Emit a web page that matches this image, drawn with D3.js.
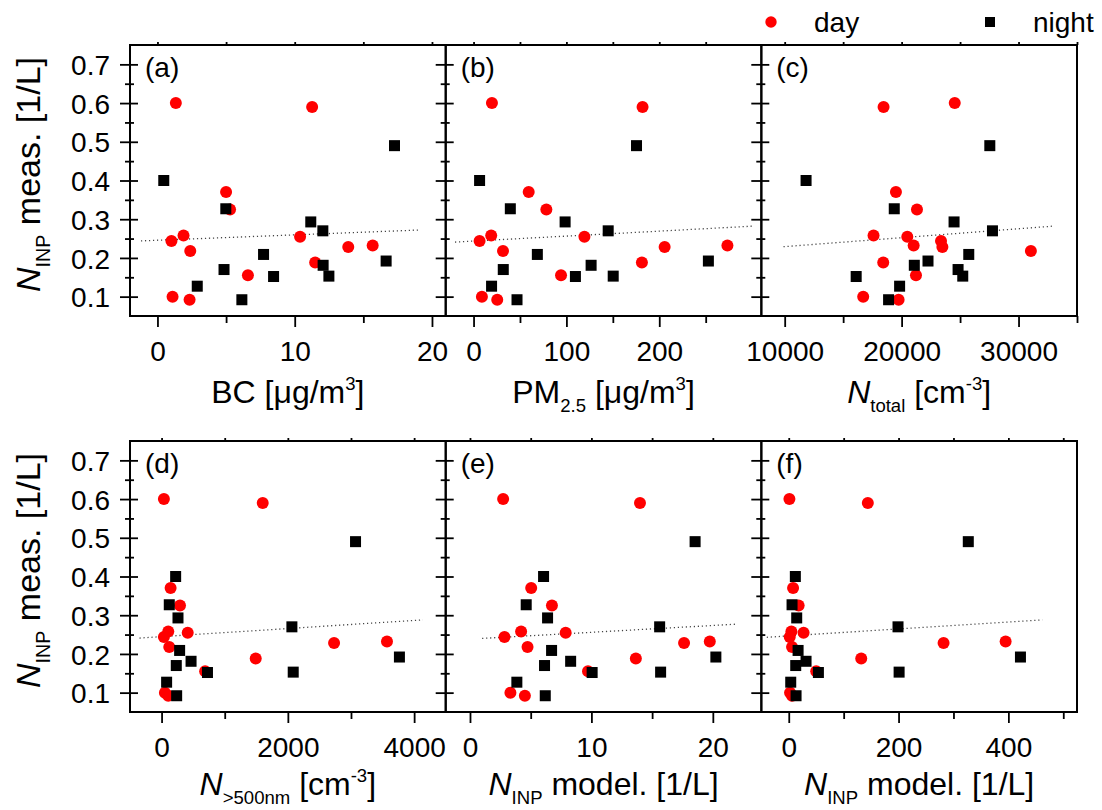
<!DOCTYPE html>
<html>
<head>
<meta charset="utf-8">
<script src="https://cdnjs.cloudflare.com/ajax/libs/d3/7.8.5/d3.min.js"></script>
<style>
  body { margin: 0; background: #fff; }
  svg { font-family: "Liberation Sans", Arial, sans-serif; }
</style>
</head>
<body>
<svg id="chart" width="1102" height="810"></svg>
<script>
// measured N_INP [1/L], same samples in every panel
const yDay   = [0.60, 0.59, 0.37, 0.325, 0.258, 0.244, 0.255, 0.218, 0.228, 0.232, 0.188, 0.155, 0.10, 0.092];
const yNight = [0.40, 0.49, 0.327, 0.293, 0.27, 0.209, 0.17, 0.152, 0.181, 0.153, 0.192, 0.127, 0.092];

// x values of each panel, day then night
const bcDay     = [1.34, 11.27, 5.0, 5.29, 1.9, 1.02, 10.39, 2.39, 13.9, 15.68, 11.49, 6.59, 1.1, 2.34];
const bcNight   = [0.46, 17.27, 4.98, 11.17, 12.05, 7.73, 4.85, 8.46, 12.07, 12.49, 16.66, 2.9, 6.15];
const pmDay     = [19.8, 182, 59.4, 78.4, 19, 6.5, 119.4, 31.7, 205.8, 273.4, 181.3, 94.2, 9, 25.5];
const pmNight   = [6.5, 175.5, 39.6, 98.6, 145, 68.7, 32, 109.7, 126.6, 150.4, 252.9, 19.4, 46.8];
const ntotDay   = [24543, 18457, 19514, 21314, 17600, 23371, 20486, 31057, 23486, 21029, 18429, 21229, 16714, 19743];
const ntotNight = [11829, 27543, 19371, 24486, 27771, 25743, 24829, 16114, 21086, 25229, 22257, 19829, 18886];
const n500Day   = [37, 1602, 143, 292, 106, 37, 414, 122, 2732, 3570, 1491, 690, 53, 106];
const n500Night = [223, 3072, 122, 260, 2064, 286, 233, 727, 467, 2085, 3767, 80, 239];
const modEDay   = [2.73, 14.0, 5.04, 6.75, 4.21, 2.84, 7.88, 4.74, 17.63, 19.75, 13.66, 9.72, 3.33, 4.52];
const modENight = [6.06, 18.54, 4.63, 6.39, 15.62, 6.72, 6.14, 10.06, 8.29, 15.7, 20.25, 3.86, 6.2];
const modFDay   = [1.2, 144, 7.9, 18, 4.8, 1.8, 27, 6, 282, 395, 132, 50, 2.4, 6];
const modFNight = [12, 327, 6, 14.5, 199, 17, 12.7, 54, 31.5, 201, 422, 3.6, 13.3];

// dotted fit lines, end points [x, y]
const fitA = [[-1.2, 0.244], [19, 0.272]];
const fitB = [[-20, 0.241], [300, 0.282]];
const fitC = [[9900, 0.229], [32900, 0.282]];
const fitD = [[-350, 0.241], [4140, 0.288]];
const fitE = [[1.0, 0.240], [22, 0.277]];
const fitF = [[-40, 0.243], [462, 0.288]];

// tick values
const yMajor = [0.1, 0.2, 0.3, 0.4, 0.5, 0.6, 0.7];
const yMinor = [0.15, 0.25, 0.35, 0.45, 0.55, 0.65];

const panels = [
  {tag: "(a)", col: 0, row: 0, dom: [-2, 21], major: [0, 10, 20], minor: [5, 15],
   xd: bcDay, xn: bcNight, fit: fitA,
   title: [{t: "BC [μg/m"}, {t: "3", s: "sup"}, {t: "]"}]},
  {tag: "(b)", col: 1, row: 0, dom: [-30, 310], major: [0, 100, 200], minor: [50, 150, 250],
   xd: pmDay, xn: pmNight, fit: fitB,
   title: [{t: "PM"}, {t: "2.5", s: "sub"}, {t: " [μg/m"}, {t: "3", s: "sup"}, {t: "]"}]},
  {tag: "(c)", col: 2, row: 0, dom: [8000, 35000], major: [10000, 20000, 30000], minor: [15000, 25000, 35000],
   xd: ntotDay, xn: ntotNight, fit: fitC,
   title: [{t: "N", i: true}, {t: "total", s: "sub"}, {t: " [cm"}, {t: "-3", s: "sup"}, {t: "]"}]},
  {tag: "(d)", col: 0, row: 1, dom: [-500, 4500], major: [0, 2000, 4000], minor: [1000, 3000],
   xd: n500Day, xn: n500Night, fit: fitD,
   title: [{t: "N", i: true}, {t: ">500nm", s: "sub"}, {t: " [cm"}, {t: "-3", s: "sup"}, {t: "]"}]},
  {tag: "(e)", col: 1, row: 1, dom: [-2, 24], major: [0, 10, 20], minor: [5, 15],
   xd: modEDay, xn: modENight, fit: fitE,
   title: [{t: "N", i: true}, {t: "INP", s: "sub"}, {t: " model. [1/L]"}]},
  {tag: "(f)", col: 2, row: 1, dom: [-50, 525], major: [0, 200, 400], minor: [100, 300, 500],
   xd: modFDay, xn: modFNight, fit: fitF,
   title: [{t: "N", i: true}, {t: "INP", s: "sub"}, {t: " model. [1/L]"}]}
];

const colX = [130, 445.7, 761.3], W = 315.7;
const rowY = [45, 441], H = 271;
const titleGap = [87, 83];
const yDomain = [0.05, 0.75];

const svg = d3.select("#chart");

function rich(text, parts, size) {
  let cur = 0;
  parts.forEach(p => {
    const target = p.s === "sub" ? size * 0.28 : p.s === "sup" ? -size * 0.42 : 0;
    const ts = text.append("tspan").text(p.t).attr("dy", target - cur);
    cur = target;
    if (p.s) ts.attr("font-size", size * 0.58);
    if (p.i) ts.attr("font-style", "italic");
  });
}

function styleAxis(sel) {
  sel.select(".domain").remove();
  sel.selectAll("line").attr("stroke", "#000").attr("stroke-width", 1.8);
  sel.selectAll("text").attr("font-size", 28).attr("fill", "#000")
    .attr("font-family", "\"Liberation Sans\", Arial, sans-serif");
}

panels.forEach(p => {
  const x0 = colX[p.col], y0 = rowY[p.row];
  const x = d3.scaleLinear().domain(p.dom).range([x0, x0 + W]);
  const y = d3.scaleLinear().domain(yDomain).range([y0 + H, y0]);
  const g = svg.append("g");

  // bottom axis: outward ticks with labels, short minor ticks
  g.append("g").attr("transform", `translate(0,${y0 + H})`)
    .call(d3.axisBottom(x).tickValues(p.major).tickSize(11).tickFormat(d3.format("d")))
    .call(styleAxis)
    .call(a => a.selectAll("text").attr("y", 44.7).attr("dy", 0));
  g.append("g").attr("transform", `translate(0,${y0 + H})`)
    .call(d3.axisBottom(x).tickValues(p.minor).tickSize(7).tickFormat(""))
    .call(styleAxis);
  // top axis, tiny ticks
  g.append("g").attr("transform", `translate(0,${y0})`)
    .call(d3.axisTop(x).tickValues(p.major.concat(p.minor)).tickSize(3).tickFormat(""))
    .call(styleAxis);

  // left axis: ticks crossing the frame
  const left = g.append("g").attr("transform", `translate(${x0},0)`);
  left.append("g")
    .call(d3.axisLeft(y).tickValues(yMajor).tickSize(10)
      .tickFormat(p.col === 0 ? d3.format(".1f") : ""))
    .call(styleAxis)
    .call(a => a.selectAll("text").attr("x", -20).attr("dy", "0.36em"));
  left.append("g").call(d3.axisRight(y).tickValues(yMajor).tickSize(8).tickFormat("")).call(styleAxis);
  left.append("g").call(d3.axisLeft(y).tickValues(yMinor).tickSize(5).tickFormat("")).call(styleAxis);
  left.append("g").call(d3.axisRight(y).tickValues(yMinor).tickSize(4).tickFormat("")).call(styleAxis);

  // fit line
  g.append("path")
    .datum(p.fit)
    .attr("d", d3.line().x(d => x(d[0])).y(d => y(d[1])))
    .attr("fill", "none")
    .attr("stroke", "#444")
    .attr("stroke-width", 1.3)
    .attr("stroke-dasharray", "1.2,2.8");

  // day points
  g.append("g").selectAll("circle")
    .data(p.xd.map((v, i) => [v, yDay[i]]))
    .join("circle")
    .attr("cx", d => x(d[0]))
    .attr("cy", d => y(d[1]))
    .attr("r", 6)
    .attr("fill", "#ff0000");

  // night points
  g.append("g").selectAll("rect")
    .data(p.xn.map((v, i) => [v, yNight[i]]))
    .join("rect")
    .attr("x", d => x(d[0]) - 5.5)
    .attr("y", d => y(d[1]) - 5.5)
    .attr("width", 11)
    .attr("height", 11)
    .attr("fill", "#000");

  // frame
  g.append("rect")
    .attr("x", x0).attr("y", y0)
    .attr("width", W).attr("height", H)
    .attr("fill", "none")
    .attr("stroke", "#000")
    .attr("stroke-width", 2);

  // panel tag
  g.append("text")
    .attr("x", x0 + 15).attr("y", y0 + 32)
    .attr("font-size", 28)
    .text(p.tag);

  // x title
  const xt = g.append("text")
    .attr("x", x0 + W / 2).attr("y", y0 + H + titleGap[p.row])
    .attr("text-anchor", "middle")
    .attr("font-size", 32);
  rich(xt, p.title, 32);

  // y title on the left column
  if (p.col === 0) {
    const yt = g.append("text")
      .attr("transform", `translate(40,${y0 + H / 2 - 6}) rotate(-90)`)
      .attr("text-anchor", "middle")
      .attr("font-size", 34);
    rich(yt, [{t: "N", i: true}, {t: "INP", s: "sub"}, {t: " meas. [1/L]"}], 34);
  }
});

// legend
const legend = svg.append("g");
legend.append("circle").attr("cx", 771).attr("cy", 22).attr("r", 5.7).attr("fill", "#ff0000");
legend.append("text").attr("x", 814).attr("y", 32).attr("font-size", 28).text("day");
legend.append("rect").attr("x", 985).attr("y", 17).attr("width", 10).attr("height", 10).attr("fill", "#000");
legend.append("text").attr("x", 1033).attr("y", 32).attr("font-size", 28).text("night");
</script>
</body>
</html>
